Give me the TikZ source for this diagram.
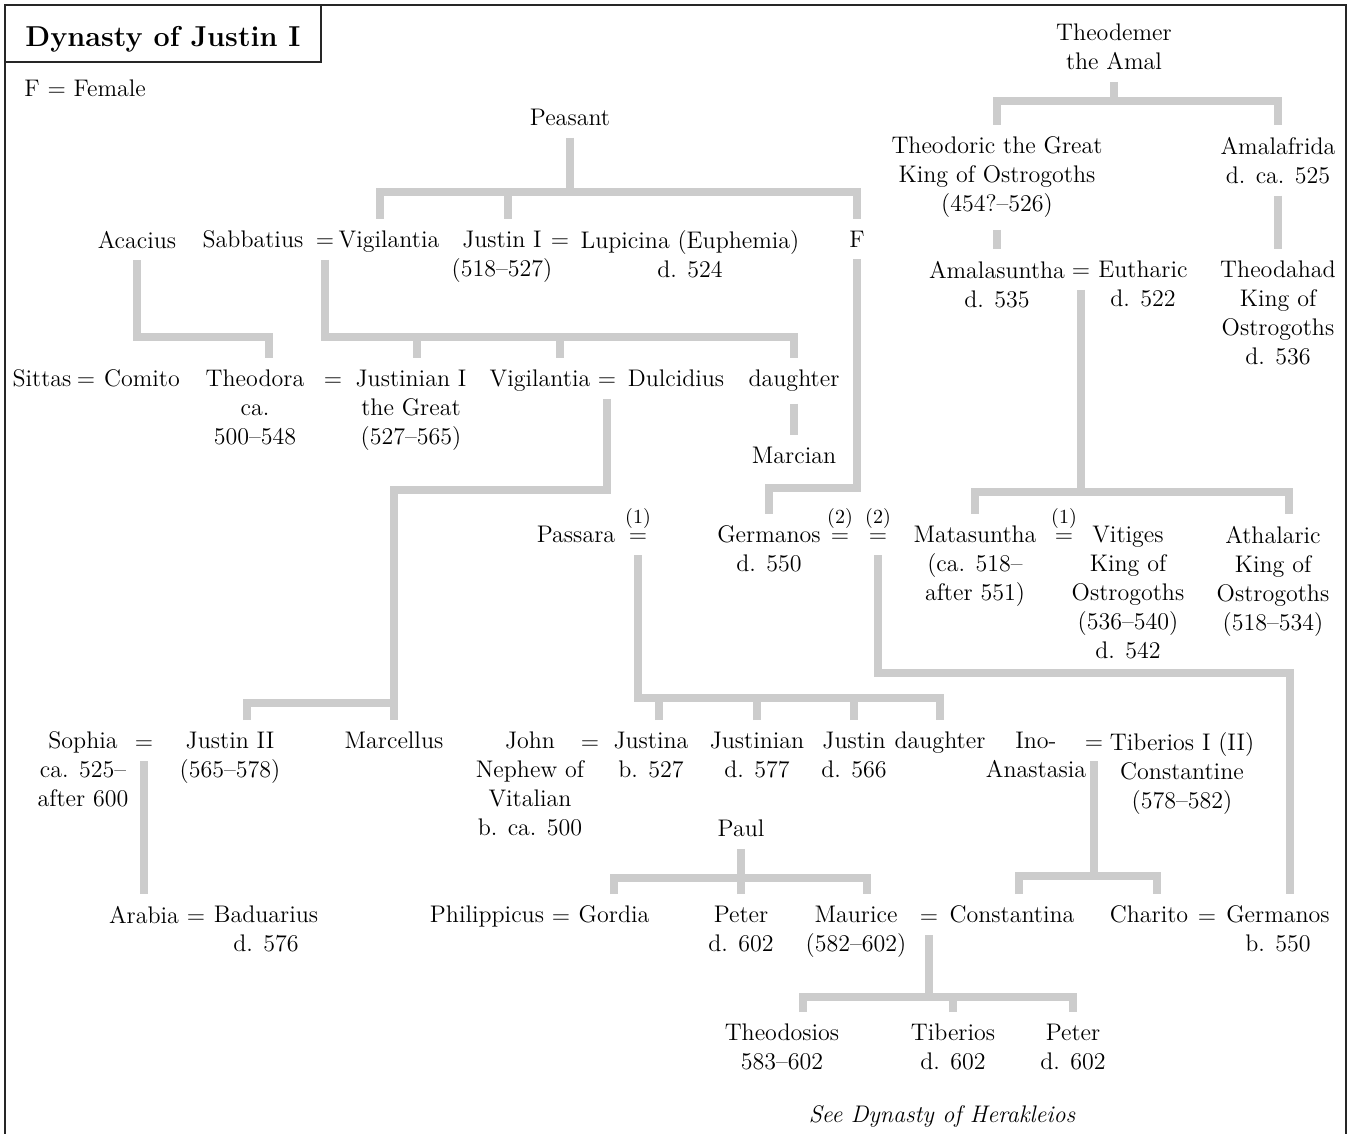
\documentclass[tikz,border=0pt]{standalone}
\usepackage{tikz}
\usetikzlibrary{positioning}
\definecolor{kingray}{RGB}{204,204,204}
\newcommand{\treefont}{\fontsize{12}{14.5}\selectfont}
\newcommand{\nwed}[1]{\shortstack{{\fontsize{10}{10}\selectfont(#1)}\\$=$}}
\tikzset{
  kin/.style={line width=4pt,draw=kingray},                 % line of descent
  pers/.style={align=center,inner sep=0pt,outer ysep=6pt,anchor=north,font=\treefont}, % person
  wed/.style={inner sep=0pt,outer ysep=6pt,anchor=base,font=\treefont},  % marriage sign
  frm/.style={line width=1pt,draw=black!85},                % frame
}

\begin{document}
\begin{tikzpicture}[x=0.5pt,y=-0.5pt]
  \useasboundingbox (0,0) rectangle (1351,1134);
  % frame and title
  \draw[frm] (5,1134) -- (5,5) -- (1346,5) -- (1346,1134);
  \draw[frm] (5,5) rectangle (321,62);
  \node[anchor=base,font=\Large\bfseries] (title) at (163,47) {Dynasty of Justin I};
  \node[anchor=base west,inner sep=0pt,font=\treefont] (key) at (24,97) {F = Female};
  % Ostrogoths
  \node[pers] (theodemer) at (1114,12) {Theodemer\\the Amal};
  \node[pers] (theodoric) at (997,125) {Theodoric the Great\\King of Ostrogoths\\(454?--526)};
  \node[pers] (amalafrida) at (1278,125) {Amalafrida\\d. ca. 525};
  \node[pers] (amalasuntha) at (997,249) {Amalasuntha\\d. 535};
  \node[wed] (eqA3) at (1081,278) {$=$};
  \node[pers] (eutharic) at (1143,249) {Eutharic\\d. 522};
  \node[pers] (theodahad) at (1278,249) {Theodahad\\King of\\Ostrogoths\\d. 536};
  % first generation
  \node[pers] (peasant) at (570,97) {Peasant};
  \node[pers] (acacius) at (137,219) {Acacius};
  \node[pers] (sabbatius) at (253,219) {Sabbatius};
  \node[wed] (eqA1) at (325,248) {$=$};
  \node[pers] (vigilantiaA) at (389,219) {Vigilantia};
  \node[pers] (justin) at (502,219) {Justin I\\(518--527)};
  \node[wed] (eqA2) at (560,248) {$=$};
  \node[pers] (lupicina) at (690,219) {Lupicina (Euphemia)\\d. 524};
  \node[pers] (fem) at (857,219) {F};
  % second generation
  \node[pers] (sittas) at (42,358) {Sittas};
  \node[wed] (eqB1) at (86,387) {$=$};
  \node[pers] (comito) at (142,358) {Comito};
  \node[pers] (theodora) at (255,358) {Theodora\\ca.\\500--548};
  \node[wed] (eqB2) at (333,387) {$=$};
  \node[pers] (justinian) at (411,358) {Justinian I\\the Great\\(527--565)};
  \node[pers] (vigilantiaB) at (540,358) {Vigilantia};
  \node[wed] (eqB3) at (607,387) {$=$};
  \node[pers] (dulcidius) at (676,358) {Dulcidius};
  \node[pers] (daughterB) at (794,358) {daughter};
  \node[pers] (marcian) at (794,435) {Marcian};
  % third row
  \node[pers] (passara) at (576,514) {Passara};
  \node[wed] (eqC1) at (638,543) {\nwed{1}};
  \node[pers] (germanos) at (769,514) {Germanos\\d. 550};
  \node[wed] (eqC2) at (840,543) {\nwed{2}};
  \node[wed] (eqC3) at (878,543) {\nwed{2}};
  \node[pers] (matasuntha) at (975,514) {Matasuntha\\(ca. 518--\\after 551)};
  \node[wed] (eqC4) at (1064,543) {\nwed{1}};
  \node[pers] (vitiges) at (1128,514) {Vitiges\\King of\\Ostrogoths\\(536--540)\\d. 542};
  \node[pers] (athalaric) at (1273,514) {Athalaric\\King of\\Ostrogoths\\(518--534)};
  % fourth row
  \node[pers] (sophia) at (83,720) {Sophia\\ca. 525--\\after 600};
  \node[wed] (eqD1) at (144,749) {$=$};
  \node[pers] (justinII) at (230,720) {Justin II\\(565--578)};
  \node[pers] (marcellus) at (394,720) {Marcellus};
  \node[pers] (john) at (530,720) {John\\Nephew of\\Vitalian\\b. ca. 500};
  \node[wed] (eqD2) at (590,749) {$=$};
  \node[pers] (justina) at (651,720) {Justina\\b. 527};
  \node[pers] (justinianB) at (757,720) {Justinian\\d. 577};
  \node[pers] (justinB) at (854,720) {Justin\\d. 566};
  \node[pers] (daughterD) at (940,720) {daughter};
  \node[pers] (ino) at (1036,720) {Ino-\\Anastasia};
  \node[wed] (eqD3) at (1094,749) {$=$};
  \node[pers] (tiberiosI) at (1182,720) {Tiberios I (II)\\Constantine\\(578--582)};
  \node[pers] (paul) at (741,808) {Paul};
  % fifth row
  \node[pers] (arabia) at (144,894) {Arabia};
  \node[wed] (eqE1) at (196,923) {$=$};
  \node[pers] (baduarius) at (266,894) {Baduarius\\d. 576};
  \node[pers] (philippicus) at (487,894) {Philippicus};
  \node[wed] (eqE2) at (561,923) {$=$};
  \node[pers] (gordia) at (614,894) {Gordia};
  \node[pers] (peter) at (741,894) {Peter\\d. 602};
  \node[pers] (maurice) at (856,894) {Maurice\\(582--602)};
  \node[wed] (eqE3) at (929,923) {$=$};
  \node[pers] (constantina) at (1012,894) {Constantina};
  \node[pers] (charito) at (1149,894) {Charito};
  \node[wed] (eqE4) at (1207,923) {$=$};
  \node[pers] (germanosB) at (1278,894) {Germanos\\b. 550};
  % sixth row
  \node[pers] (theodosios) at (782,1012) {Theodosios\\583--602};
  \node[pers] (tiberiosB) at (953,1012) {Tiberios\\d. 602};
  \node[pers] (peterB) at (1073,1012) {Peter\\d. 602};
  \node[anchor=base,inner sep=0pt,font=\treefont\itshape] (see) at (942,1122) {See Dynasty of Herakleios};
  % lines of descent
  \coordinate (tb) at (1114,101);
  \draw[kin] (theodemer.south) -- (tb);
  \draw[kin] (theodoric.north) |- (tb) -| (amalafrida.north);
  \draw[kin] (theodoric.south) -- (amalasuntha.north);
  \draw[kin] (amalafrida.south) -- (theodahad.north);
  \coordinate (pb) at (570,192);
  \draw[kin] (peasant.south) -- (pb);
  \draw[kin] ([xshift=-4.5pt]vigilantiaA.north) |- (pb) -| (fem.north);
  \draw[kin] ([xshift=3pt]justin.north) |- (pb);
  \coordinate (ab) at (137,337);
  \draw[kin] (acacius.south) -- (ab) -| ([xshift=7pt]theodora.north);
  \coordinate (sb) at (325,337);
  \draw[kin] (eqA1.south) -- (sb) -| (daughterB.north);
  \draw[kin] ([xshift=3pt]justinian.north) |- (sb);
  \draw[kin] ([xshift=10pt]vigilantiaB.north) |- (sb);
  \draw[kin] (daughterB.south) -- (marcian.north);
  \coordinate (db) at (607,490);
  \draw[kin] (eqB3.south) -- (db) -| (marcellus.north);
  \coordinate (mb) at (394,703);
  \draw[kin] ([xshift=8.5pt]justinII.north) |- (mb);
  \coordinate (fb) at (857,488);
  \draw[kin] (fem.south) -- (fb) -| (germanos.north);
  \coordinate (eb) at (1081,492);
  \draw[kin] (eqA3.south) -- (eb);
  \draw[kin] (matasuntha.north) |- (eb) -| ([xshift=8pt]athalaric.north);
  \coordinate (pa) at (638,698);
  \draw[kin] (eqC1.south) -- (pa) -| (daughterD.north);
  \draw[kin] ([xshift=4pt]justina.north) |- (pa);
  \draw[kin] (justinianB.north) |- (pa);
  \draw[kin] (justinB.north) |- (pa);
  \coordinate (gb) at (878,673);
  \draw[kin] (eqC3.south) -- (gb) -| ([xshift=6pt]germanosB.north);
  \draw[kin] (eqD1.south) -- (arabia.north);
  \coordinate (ib) at (1094,876);
  \draw[kin] (eqD3.south) -- (ib);
  \draw[kin] ([xshift=3.5pt]constantina.north) |- (ib) -| ([xshift=4pt]charito.north);
  \coordinate (pl) at (741,878);
  \draw[kin] (paul.south) -- (pl);
  \draw[kin] (gordia.north) |- (pl) -| ([xshift=5.5pt]maurice.north);
  \draw[kin] (peter.north) -- (pl);
  \coordinate (mc) at (929,997);
  \draw[kin] (eqE3.south) -- (mc);
  \draw[kin] ([xshift=10.5pt]theodosios.north) |- (mc) -| (peterB.north);
  \draw[kin] (tiberiosB.north) |- (mc);
\end{tikzpicture}
\end{document}
